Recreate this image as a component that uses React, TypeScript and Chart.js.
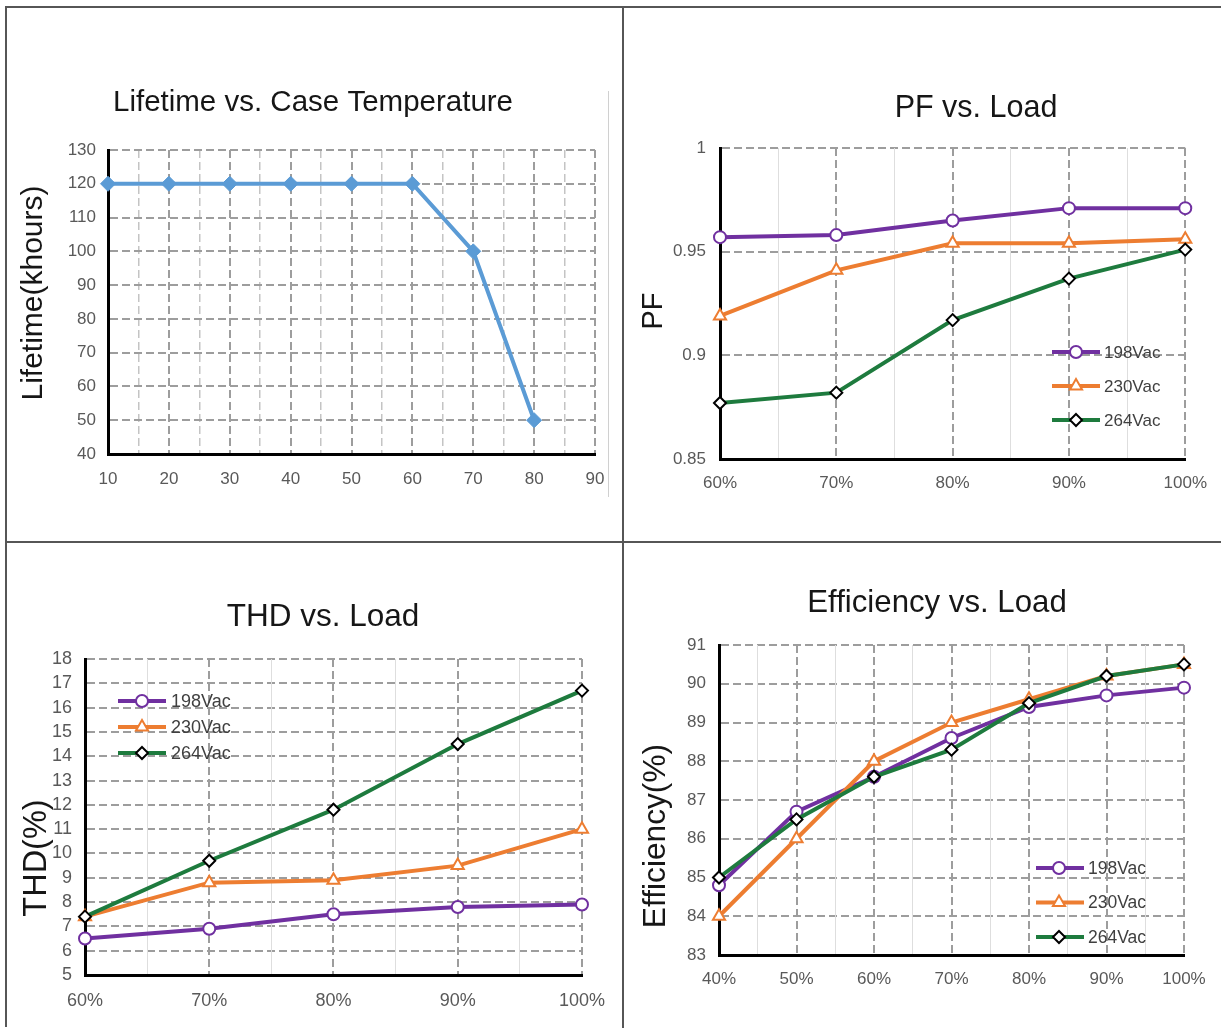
import React, { useEffect, useRef } from 'react';
import { Chart, registerables } from 'chart.js';

Chart.register(...registerables);

// ---------------- data ----------------
const LIFE_TEMP = [10, 20, 30, 40, 50, 60, 70, 80];
const LIFE_HOURS = [120, 120, 120, 120, 120, 120, 100, 50];
const LIFE_X_TICKS = [10, 15, 20, 25, 30, 35, 40, 45, 50, 55, 60, 65, 70, 75, 80, 85, 90];
const LIFE_Y_TICKS = [40, 50, 60, 70, 80, 90, 100, 110, 120, 130];

const SERIES_NAMES = ['198Vac', '230Vac', '264Vac'];

const PF_LOAD = [60, 70, 80, 90, 100];
const PF_198 = [0.957, 0.958, 0.965, 0.971, 0.971];
const PF_230 = [0.919, 0.941, 0.954, 0.954, 0.956];
const PF_264 = [0.877, 0.882, 0.917, 0.937, 0.951];
const PF_X_MINOR = [65, 75, 85, 95];
const PF_Y_TICKS = [0.85, 0.9, 0.95, 1];

const THD_LOAD = [60, 70, 80, 90, 100];
const THD_198 = [6.5, 6.9, 7.5, 7.8, 7.9];
const THD_230 = [7.4, 8.8, 8.9, 9.5, 11.0];
const THD_264 = [7.4, 9.7, 11.8, 14.5, 16.7];
const THD_X_MINOR = [65, 75, 85, 95];
const THD_Y_TICKS = [5, 6, 7, 8, 9, 10, 11, 12, 13, 14, 15, 16, 17, 18];

const EFF_LOAD = [40, 50, 60, 70, 80, 90, 100];
const EFF_198 = [84.8, 86.7, 87.6, 88.6, 89.4, 89.7, 89.9];
const EFF_230 = [84.0, 86.0, 88.0, 89.0, 89.6, 90.2, 90.5];
const EFF_264 = [85.0, 86.5, 87.6, 88.3, 89.5, 90.2, 90.5];
const EFF_X_MINOR = [45, 55, 65, 75, 85, 95];
const EFF_Y_TICKS = [83, 84, 85, 86, 87, 88, 89, 90, 91];

// ---------------- styles ----------------
const FONT = "'Liberation Sans', Arial, sans-serif";
const PURPLE = '#7030A0';
const ORANGE = '#ED7D31';
const GREEN = '#1E7B3E';
const BLUE = '#5B9BD5';
const GRID_MAJOR = '#9d9d9d';
const GRID_MINOR_DASH = '#c4c4c4';
const GRID_MINOR = '#dedede';
const TICK_COLOR = '#595959';
const X_AXIS_H = 40;

const VAC_STYLES = [
  { color: PURPLE, pointStyle: 'circle', radius: 6, fill: '#ffffff', stroke: PURPLE, pbw: 2, order: 3 },
  { color: ORANGE, pointStyle: 'triangle', radius: 7, fill: '#ffffff', stroke: ORANGE, pbw: 2, order: 2 },
  { color: GREEN, pointStyle: 'rectRot', radius: 6, fill: '#ffffff', stroke: '#000000', pbw: 2, order: 1 },
];

function vacSeries(values: number[][]) {
  return values.map((v, i) => ({ name: SERIES_NAMES[i], values: v, lineWidth: 4, ...VAC_STYLES[i] }));
}

const loadLabel = (v: number) => `${v}%`;

const PANELS: any[] = [
  {
    id: 'life',
    box: { x: 8, y: 10, w: 612, h: 528 },
    plot: { l: 108, t: 150, r: 595, b: 454 },
    title: 'Lifetime vs. Case Temperature', titleX: 313, titleY: 103, titleSize: 29.5,
    yTitle: 'Lifetime(khours)', yTitleX: 34, yTitleY: 293, yTitleSize: 30,
    xValues: LIFE_TEMP,
    series: [{ name: 'Lifetime', values: LIFE_HOURS, color: BLUE, lineWidth: 4, pointStyle: 'rectRot', radius: 7.5, fill: BLUE, stroke: BLUE, pbw: 1, order: 1 }],
    xTicks: LIFE_X_TICKS, xMinor: null,
    xIsMajor: (v: number) => v % 10 === 0,
    xLabel: (v: number) => (v % 10 === 0 ? String(v) : ''),
    yTicks: LIFE_Y_TICKS, yLabel: (v: number) => String(v),
    xPad: 15, yPad: 12, tickSize: 17,
    legend: null,
  },
  {
    id: 'pf',
    box: { x: 625, y: 10, w: 596, h: 528 },
    plot: { l: 720, t: 148, r: 1187, b: 459 },
    title: 'PF vs. Load', titleX: 976, titleY: 109, titleSize: 30.5,
    yTitle: 'PF', yTitleX: 654, yTitleY: 311, yTitleSize: 29,
    xValues: PF_LOAD,
    series: vacSeries([PF_198, PF_230, PF_264]),
    xTicks: PF_LOAD, xMinor: PF_X_MINOR,
    xIsMajor: () => true,
    xLabel: loadLabel,
    yTicks: PF_Y_TICKS, yLabel: (v: number) => String(Number(Number(v).toFixed(2))),
    xPad: 14, yPad: 14, tickSize: 17,
    legend: { x1: 1052, x2: 1100, mx: 1076, tx: 1104, y: 352, dy: 34, size: 17 },
  },
  {
    id: 'thd',
    box: { x: 8, y: 545, w: 612, h: 483 },
    plot: { l: 85, t: 659, r: 584, b: 975 },
    title: 'THD vs. Load', titleX: 323, titleY: 617, titleSize: 31.5,
    yTitle: 'THD(%)', yTitleX: 37, yTitleY: 858, yTitleSize: 32.5,
    xValues: THD_LOAD,
    series: vacSeries([THD_198, THD_230, THD_264]),
    xTicks: THD_LOAD, xMinor: THD_X_MINOR,
    xIsMajor: () => true,
    xLabel: loadLabel,
    yTicks: THD_Y_TICKS, yLabel: (v: number) => String(v),
    xPad: 15, yPad: 13, tickSize: 18,
    legend: { x1: 118, x2: 166, mx: 142, tx: 171, y: 701, dy: 26, size: 18 },
  },
  {
    id: 'eff',
    box: { x: 625, y: 545, w: 596, h: 483 },
    plot: { l: 719, t: 645, r: 1184, b: 955 },
    title: 'Efficiency vs. Load', titleX: 937, titleY: 603, titleSize: 31.2,
    yTitle: 'Efficiency(%)', yTitleX: 656, yTitleY: 836, yTitleSize: 31.7,
    xValues: EFF_LOAD,
    series: vacSeries([EFF_198, EFF_230, EFF_264]),
    xTicks: EFF_LOAD, xMinor: EFF_X_MINOR,
    xIsMajor: () => true,
    xLabel: loadLabel,
    yTicks: EFF_Y_TICKS, yLabel: (v: number) => String(v),
    xPad: 14, yPad: 13, tickSize: 17,
    legend: { x1: 1036, x2: 1084, mx: 1059, tx: 1088, y: 868, dy: 34.5, size: 17.5 },
  },
];

// ---------------- helpers ----------------
function drawMarker(ctx: CanvasRenderingContext2D, s: any, x: number, y: number) {
  const r = s.radius;
  ctx.beginPath();
  if (s.pointStyle === 'circle') {
    ctx.arc(x, y, r, 0, Math.PI * 2);
  } else if (s.pointStyle === 'triangle') {
    ctx.moveTo(x, y - r);
    ctx.lineTo(x + r * Math.sin((2 * Math.PI) / 3), y - r * Math.cos((2 * Math.PI) / 3));
    ctx.lineTo(x - r * Math.sin((2 * Math.PI) / 3), y - r * Math.cos((2 * Math.PI) / 3));
  } else {
    ctx.moveTo(x, y - r);
    ctx.lineTo(x + r, y);
    ctx.lineTo(x, y + r);
    ctx.lineTo(x - r, y);
  }
  ctx.closePath();
  ctx.fillStyle = s.fill;
  ctx.fill();
  ctx.lineWidth = s.pbw;
  ctx.strokeStyle = s.stroke;
  ctx.stroke();
}

function makeTextPlugin(p: any) {
  return {
    id: 'panelText_' + p.id,
    afterDraw(chart: any) {
      const ctx: CanvasRenderingContext2D = chart.ctx;
      const ox = p.box.x;
      const oy = p.box.y;
      ctx.save();
      ctx.fillStyle = '#161616';
      ctx.textAlign = 'center';
      ctx.textBaseline = 'middle';
      ctx.font = `${p.titleSize}px ${FONT}`;
      ctx.fillText(p.title, p.titleX - ox, p.titleY - oy);
      ctx.save();
      ctx.translate(p.yTitleX - ox, p.yTitleY - oy);
      ctx.rotate(-Math.PI / 2);
      ctx.font = `${p.yTitleSize}px ${FONT}`;
      ctx.fillText(p.yTitle, 0, 0);
      ctx.restore();

      if (p.legend) {
        const L = p.legend;
        p.series.forEach((s: any, i: number) => {
          const y = L.y + i * L.dy - oy;
          ctx.beginPath();
          ctx.moveTo(L.x1 - ox, y);
          ctx.lineTo(L.x2 - ox, y);
          ctx.lineWidth = s.lineWidth;
          ctx.strokeStyle = s.color;
          ctx.stroke();
          drawMarker(ctx, s, L.mx - ox, y);
          ctx.fillStyle = '#404040';
          ctx.textAlign = 'left';
          ctx.textBaseline = 'middle';
          ctx.font = `${L.size}px ${FONT}`;
          ctx.fillText(s.name, L.tx - ox, y + 1);
        });
      }
      ctx.restore();
    },
  };
}

function buildConfig(p: any): any {
  const datasets = p.series.map((s: any) => ({
    label: s.name,
    data: p.xValues.map((x: number, i: number) => ({ x, y: s.values[i] })),
    borderColor: s.color,
    backgroundColor: s.color,
    borderWidth: s.lineWidth,
    pointStyle: s.pointStyle,
    pointRadius: s.radius,
    pointHoverRadius: s.radius,
    pointBackgroundColor: s.fill,
    pointBorderColor: s.stroke,
    pointBorderWidth: s.pbw,
    tension: 0,
    fill: false,
    clip: false,
    order: s.order,
    xAxisID: 'x',
    yAxisID: 'y',
  }));

  const xMin = p.xTicks[0];
  const xMax = p.xTicks[p.xTicks.length - 1];

  const scales: any = {
    x: {
      type: 'linear',
      position: 'bottom',
      min: xMin,
      max: xMax,
      afterBuildTicks: (s: any) => {
        s.ticks = p.xTicks.map((v: number) => ({ value: v }));
      },
      afterFit: (s: any) => {
        s.height = X_AXIS_H;
      },
      ticks: {
        autoSkip: false,
        maxRotation: 0,
        minRotation: 0,
        padding: p.xPad,
        color: TICK_COLOR,
        font: { family: FONT, size: p.tickSize },
        callback: (v: any) => p.xLabel(Number(v)),
      },
      grid: {
        drawTicks: false,
        z: -1,
        color: (c: any) => (c.tick && !p.xIsMajor(c.tick.value) ? GRID_MINOR_DASH : GRID_MAJOR),
        lineWidth: (c: any) => (c.tick && !p.xIsMajor(c.tick.value) ? 1.5 : 2),
      },
      border: { display: true, color: '#000000', width: 3, dash: [8, 4] },
    },
    y: {
      type: 'linear',
      position: 'left',
      min: p.yTicks[0],
      max: p.yTicks[p.yTicks.length - 1],
      afterBuildTicks: (s: any) => {
        s.ticks = p.yTicks.map((v: number) => ({ value: v }));
      },
      afterFit: (s: any) => {
        s.width = p.plot.l - p.box.x;
      },
      ticks: {
        autoSkip: false,
        padding: p.yPad,
        color: TICK_COLOR,
        font: { family: FONT, size: p.tickSize },
        callback: (v: any) => p.yLabel(Number(v)),
      },
      grid: { drawTicks: false, z: -1, color: GRID_MAJOR, lineWidth: 2 },
      border: { display: true, color: '#000000', width: 3, dash: [8, 4] },
    },
  };

  if (p.xMinor) {
    scales.x2 = {
      type: 'linear',
      position: 'bottom',
      min: xMin,
      max: xMax,
      afterBuildTicks: (s: any) => {
        s.ticks = p.xMinor.map((v: number) => ({ value: v }));
      },
      afterFit: (s: any) => {
        s.height = 0;
      },
      ticks: { display: false },
      grid: { drawTicks: false, z: -1, color: GRID_MINOR, lineWidth: 1 },
      border: { display: false },
    };
  }

  return {
    type: 'line',
    data: { datasets },
    options: {
      responsive: false,
      maintainAspectRatio: false,
      animation: false,
      events: [],
      layout: {
        padding: {
          left: 0,
          top: p.plot.t - p.box.y,
          right: p.box.x + p.box.w - p.plot.r,
          bottom: p.box.y + p.box.h - p.plot.b - X_AXIS_H,
        },
      },
      plugins: {
        legend: { display: false },
        tooltip: { enabled: false },
        title: { display: false },
      },
      scales,
    },
    plugins: [makeTextPlugin(p)],
  };
}

function PanelChart({ p }: { p: any }) {
  const ref = useRef<HTMLCanvasElement | null>(null);
  useEffect(() => {
    if (!ref.current) return;
    const chart = new Chart(ref.current, buildConfig(p));
    return () => chart.destroy();
  }, [p]);
  return (
    <canvas
      ref={ref}
      width={p.box.w}
      height={p.box.h}
      style={{ position: 'absolute', left: p.box.x, top: p.box.y, width: p.box.w, height: p.box.h }}
    />
  );
}

const LINE = '#565656';

export default function App() {
  return (
    <div
      style={{
        position: 'absolute',
        left: 0,
        top: 0,
        width: 1221,
        height: 1028,
        background: '#ffffff',
        overflow: 'hidden',
      }}
    >
      <div style={{ position: 'absolute', left: 5, top: 6, width: 1216, height: 2, background: LINE }} />
      <div style={{ position: 'absolute', left: 5, top: 6, width: 2, height: 1021, background: LINE }} />
      <div style={{ position: 'absolute', left: 622, top: 6, width: 2, height: 1022, background: LINE }} />
      <div style={{ position: 'absolute', left: 5, top: 541, width: 1216, height: 2, background: LINE }} />
      <div style={{ position: 'absolute', left: 608, top: 91, width: 1, height: 406, background: '#d0d0d0' }} />
      {PANELS.map((p) => (
        <PanelChart key={p.id} p={p} />
      ))}
    </div>
  );
}
